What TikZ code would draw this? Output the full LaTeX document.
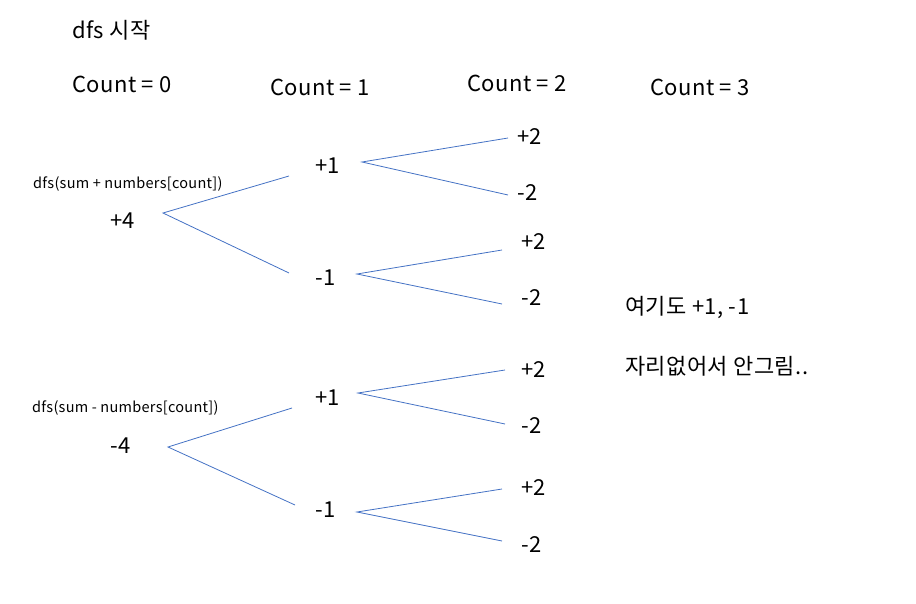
\documentclass[tikz,border=0pt]{standalone}
\usepackage{fontspec}
\setmainfont{Noto Sans CJK KR}[LetterSpace=2]
\begin{document}
\begin{tikzpicture}[x=1pt,y=-1pt]
\definecolor{edgeblue}{RGB}{68,114,196}
\tikzset{
  txt/.style={anchor=west,inner sep=0pt,font=\fontsize{22}{26}\selectfont},
  small/.style={anchor=west,inner sep=0pt,font=\fontsize{14.5}{17}\selectfont},
  edge/.style={draw=edgeblue,line width=0.8pt}}
\useasboundingbox (0,0) rectangle (916,604);
% headers
\node[txt] (start) at (72,30) {dfs 시작};
\node[txt] (c0) at (72,84) {Count = 0};
\node[txt] (c1) at (270,87) {Count = 1};
\node[txt] (c2) at (467,83) {Count = 2};
\node[txt] (c3) at (650,87) {Count = 3};
% top tree
\node[small] (lp) at (33,184) {dfs(sum + numbers[count])};
\node[txt] (p4) at (110,221) {+4};
\node[txt] (p4p1) at (315,166) {+1};
\node[txt] (p4m1) at (315,278) {-1};
\node[txt] (a1) at (517,137) {+2};
\node[txt] (a2) at (517,193) {-2};
\node[txt] (a3) at (521,242) {+2};
\node[txt] (a4) at (521,298) {-2};
% note
\node[txt] (n1) at (625,307) {여기도 +1, -1};
\node[txt] (n2) at (625,366) {자리없어서 안그림..};
% bottom tree
\node[small] (lm) at (32,408) {dfs(sum - numbers[count])};
\node[txt] (m4) at (110,446) {-4};
\node[txt] (m4p1) at (315,398) {+1};
\node[txt] (m4m1) at (315,510) {-1};
\node[txt] (b1) at (521,370) {+2};
\node[txt] (b2) at (521,426) {-2};
\node[txt] (b3) at (521,488) {+2};
\node[txt] (b4) at (521,545) {-2};
% connector end points
\coordinate (e0) at (163,213);
\coordinate (e0a) at (289,176);
\coordinate (e0b) at (289,273);
\coordinate (e1) at (362,162);
\coordinate (e1a) at (508,138);
\coordinate (e1b) at (508,195);
\coordinate (e2) at (357,274);
\coordinate (e2a) at (502,250);
\coordinate (e2b) at (502,304);
\coordinate (f0) at (168,447);
\coordinate (f0a) at (292,408);
\coordinate (f0b) at (295,505);
\coordinate (f1) at (358,393);
\coordinate (f1a) at (505,370);
\coordinate (f1b) at (505,424);
\coordinate (f2) at (357,512);
\coordinate (f2a) at (502,489);
\coordinate (f2b) at (502,541);
\draw[edge] (e0a) -- (e0) -- (e0b);
\draw[edge] (e1a) -- (e1) -- (e1b);
\draw[edge] (e2a) -- (e2) -- (e2b);
\draw[edge] (f0a) -- (f0) -- (f0b);
\draw[edge] (f1a) -- (f1) -- (f1b);
\draw[edge] (f2a) -- (f2) -- (f2b);
\end{tikzpicture}
\end{document}
